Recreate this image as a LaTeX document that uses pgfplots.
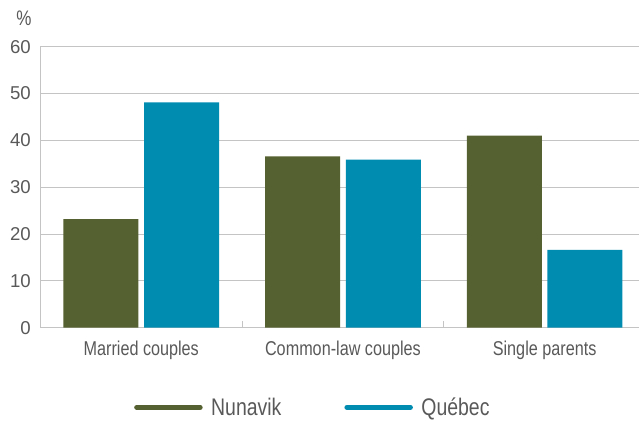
\documentclass[border=0pt]{standalone}
\usepackage{fontspec}
\setmainfont{Liberation Sans}
\newfontfamily\condfont{Liberation Sans}[FakeStretch=0.81]
\usepackage{pgfplots}
\pgfplotsset{compat=1.18}
\definecolor{nun}{HTML}{556130}
\definecolor{que}{HTML}{008BB0}
\definecolor{txt}{HTML}{595959}
\definecolor{grd}{HTML}{C4C4C4}
\begin{document}
\begin{tikzpicture}
\path[use as bounding box] (0,0) rectangle (639pt,420pt);
\begin{axis}[
  at={(40pt,92.3pt)}, anchor=south west,
  scale only axis, width=599pt, height=281pt,
  ybar=5.7pt, bar width=75pt,
  xmin=-0.502, xmax=2.468, ymin=0, ymax=60,
  ytick={0,10,...,60},
  xtick={0,1,2},
  xticklabels={Married couples, Common-law couples, Single parents},
  minor xtick={0.5,1.5},
  major tick length=0pt, minor tick length=7pt, xtick align=inside,
  axis x line*=bottom, axis y line*=left,
  axis line style={grd, line width=0.9pt},
  every tick/.style={grd, line width=0.9pt},
  minor tick style={grd, line width=0.9pt},
  ymajorgrids, grid style={grd, line width=0.9pt},
  xticklabel style={font=\condfont\fontsize{20}{24}\selectfont, text=txt, anchor=base, yshift=-28pt, inner sep=0pt},
  yticklabel style={font=\fontsize{18.6}{22}\selectfont, text=txt, anchor=east, xshift=-9pt, inner sep=0pt},
  /pgf/number format/assume math mode=true,
  legend style={at={(0.1569,-0.2833)}, anchor=west, draw=none, fill=none,
    inner sep=0pt, legend columns=2,
    font=\condfont\fontsize{24}{28}\selectfont, text=txt,
    nodes={inner sep=0pt},
    /tikz/every odd column/.append style={column sep=8.5pt},
    /tikz/every even column/.append style={column sep=63pt}},
]
\addplot[fill=nun, draw=none,
  legend image code/.code={\draw[nun, line width=5pt, line cap=round] (0pt,0pt)--(63.5pt,0pt);}]
  coordinates {(0,23.2) (1,36.6) (2,41.0)};
\addlegendentry{Nunavik}
\addplot[fill=que, draw=none,
  legend image code/.code={\draw[que, line width=5pt, line cap=round] (0pt,0pt)--(63.5pt,0pt);}]
  coordinates {(0,48.1) (1,35.9) (2,16.6)};
\addlegendentry{Québec}
\end{axis}
\node[font=\condfont\fontsize{21}{24}\selectfont, text=txt] at (24pt,402pt) {\%};
\end{tikzpicture}
\end{document}
